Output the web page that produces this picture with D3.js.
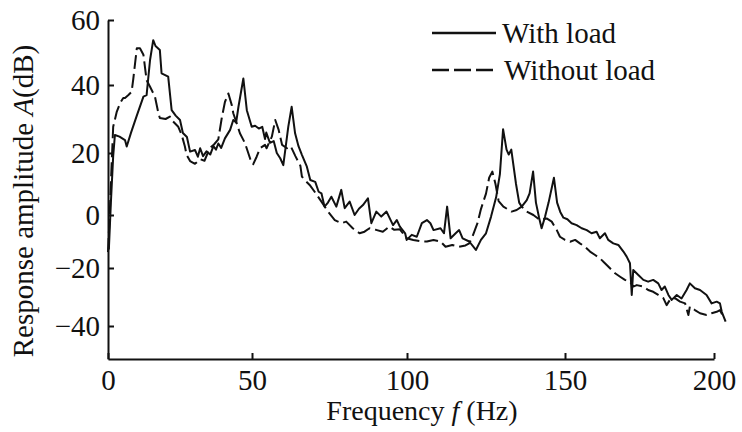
<!DOCTYPE html>
<html>
<head>
<meta charset="utf-8">
<script src="https://cdn.jsdelivr.net/npm/d3@7"></script>
<style>
  body { margin: 0; background: #fff; }
  text { font-family: "Liberation Serif", "Times New Roman", serif; fill: #111; }
  .axis path, .axis line { stroke: #111; stroke-width: 2; }
  .axis text { font-size: 29px; }
  .series { fill: none; stroke: #111; stroke-width: 2; stroke-linejoin: round; }
</style>
</head>
<body>
<div id="chart"></div>
<script>
// frequency (Hz), response amplitude (dB)
const withLoad = [
  [0.3,-13],[1.0,4],[1.8,19],[2.4,25.3],[4,24.8],[5.9,23.8],[6.5,21.9],[8,26],[10,31],
  [12.3,36.6],[13.4,37],[14.6,47.7],[15.7,53.8],[16.5,52],[18,50.8],[18.6,43.6],[20.9,42.6],
  [22.1,32.6],[23.5,31],[25,29.7],[26,25.9],[27.4,24.7],[28.5,20.4],[30.2,20.9],[31.2,18.8],
  [32,21.4],[33,19],[34.2,20.5],[35.5,19.5],[36.6,22],[37.5,21],[38.3,22.8],[39.3,21.5],
  [40.6,24.3],[42.4,26.8],[43.5,29.7],[44.5,29],[45.3,33.6],[47,42],[48.2,32.6],[49.9,27.7],
  [51,28],[52.2,27.2],[53.3,27.7],[54.2,24.1],[54.6,26],[55.8,23],[57,23.5],[58,20],
  [59.1,18.3],[60.1,16.1],[61.7,27.7],[62.8,33.6],[63.9,25.8],[65,22],[66.1,19.4],[67.7,15.6],
  [68.8,11.3],[70.4,10.7],[71.5,7.5],[72.4,7],[73.4,2.7],[74.5,4],[75.6,5.9],[77.2,2.7],
  [78.8,8.1],[79.9,2.2],[81.5,4.3],[83.1,0],[84.5,2],[85.8,3.2],[87.4,5.4],[88.5,-3.1],
  [90.1,1.1],[91.7,-0.6],[93.4,1.1],[95.5,-3.8],[96.7,-1.9],[97.7,-4.4],[99.4,-6.9],[99.9,-9.4],
  [101.5,-7.5],[103.1,-8.2],[104.7,-3.1],[106.3,-1.9],[107.4,-3.1],[108.4,-5.7],[110.6,-5],
  [111.7,-6.9],[112.7,2.7],[113.8,-8.8],[115.4,-6.9],[116.5,-5.7],[117.6,-8.8],[119.7,-10],
  [121.8,-13.2],[123.4,-9.4],[125,-6.9],[126.6,-0.6],[128.2,5.7],[129.4,13.2],[130.4,27],
  [131.5,21],[132.2,19.5],[133,21],[134.5,10],[135.5,4],[136.3,2.7],[137.9,4.8],[138.8,7],
  [139.9,14],[140.8,4],[141.8,-1],[142.6,-5],[143.7,-0.6],[144.8,4],[146.5,12],[147.5,4],
  [148.5,1],[149.5,-1],[150.8,-1.6],[152.2,-3.1],[153.9,-3.8],[155.6,-5],[157.3,-5.7],
  [158.9,-6.9],[160.6,-6.3],[161.7,-8.8],[163.4,-6.9],[164.5,-9.4],[166.2,-10.7],[167.9,-11.3],
  [169.6,-13.8],[170.7,-15.7],[171.8,-18.2],[172.4,-29.3],[172.9,-20.7],[174.6,-22.4],
  [176.3,-24.1],[177.9,-24.7],[179.6,-24.1],[181.3,-25.3],[182.4,-27.6],[183.5,-26.4],
  [184.7,-29.3],[185.8,-31],[187.5,-29.3],[189.1,-30.5],[190.8,-27.6],[191.9,-25.3],
  [193.6,-27],[195.3,-27.6],[197.5,-29.3],[199.2,-32.2],[200.9,-31.6],[202,-32.2],
  [202.6,-35.1],[203.9,-38.5]
];

const withoutLoad = [
  [0,-14],[0.6,0],[1.2,15],[1.8,27.7],[3,32],[4.2,34.7],[5.3,36.2],[5.9,36.2],[7,37],[8.2,38],
  [8.8,42],[10,51.3],[11.1,51.3],[12.3,49.3],[13.4,41.5],[14.6,39.5],[16.3,36.6],[17.5,31.7],
  [18,30.3],[20,30],[21.5,30.7],[22.1,29.7],[24.4,27.7],[25.6,25.3],[26.7,21.9],[27.3,19.4],
  [28.5,17.4],[30.2,16.5],[32,18],[33.5,17.5],[35.3,21.4],[36.8,22.5],[38.3,24],[39.5,30.3],
  [40.6,35],[41.8,37.5],[43,34],[43.5,31.7],[44.7,28.7],[45.8,25.8],[46.9,24],[47.6,22.8],
  [48.7,20],[49.9,16.7],[50.4,16.4],[51.5,18.8],[52.6,21.4],[54.2,22.4],[54.7,21.4],[56.4,24.8],
  [57.5,29.7],[58.6,26.8],[59.7,22.4],[61.3,21.4],[62.5,22],[64,19],[65.6,15.9],[66.1,12.4],
  [67.3,11],[68.6,9.7],[70.2,7.5],[72.4,4.3],[74.5,1.1],[76.7,-1.9],[78.8,-3.1],[80.4,-2.5],
  [82.5,-5],[84.7,-6.9],[86.3,-6.3],[87.9,-5],[90,-5.6],[92.2,-6.3],[94.3,-4.4],[95.9,-5.6],
  [97.7,-5.4],[99.9,-8.8],[102,-9.4],[104.7,-10],[106.3,-10],[108.4,-9.4],[110.6,-10],
  [112.2,-12],[114.3,-11.3],[116.5,-12],[118.5,-11.5],[119.7,-10.7],[120.7,-8.2],[122.3,-3.1],
  [123.4,1.9],[125,6.9],[126,12],[127,14],[128,10],[129,4.5],[130.5,2.7],[133.1,1.1],
  [134.7,1.6],[136.3,2.7],[137.9,1.1],[140,0],[142.1,-1.9],[144.2,-1.3],[145.8,-2.5],
  [147.4,-5.7],[148.4,-8.2],[150,-9.4],[151.7,-10.1],[153.4,-9.4],[155,-10.7],[156.7,-12],
  [158.4,-13.8],[160.1,-15.1],[161.7,-16.3],[163.4,-18.2],[165.1,-20.1],[166.8,-21.8],
  [168.5,-23],[170.1,-24.1],[171.8,-24.7],[172.9,-26.4],[174.1,-25.9],[176.3,-26.4],
  [177.9,-27.6],[179.6,-28.2],[181.3,-29.3],[183,-30.4],[184.1,-32.8],[185.2,-31],
  [186.9,-30.4],[188.6,-31.6],[190.3,-32.2],[191.4,-36.2],[191.9,-33.3],[193.6,-34.5],
  [195.3,-35.6],[197.5,-36.2],[199.2,-35.6],[200.9,-35.1],[202,-34.5],[203.1,-36.8]
];

const xTicks = [0, 50, 100, 150, 200];
const yTicks = [-40, -20, 0, 20, 40, 60];
const seriesNames = ["With load", "Without load"];

const width = 742, height = 432;

const svg = d3.select("#chart")
  .append("svg")
  .attr("width", width)
  .attr("height", height);

// the printed axes are slightly uneven, so the scales follow the tick marks
const x = d3.scaleLinear()
  .domain([0, 50, 100, 150, 200])
  .range([108, 252, 407, 565, 714]);

const y = d3.scaleLinear()
  .domain([-50, -40, -20, 0, 20, 40, 60])
  .range([359, 326, 268, 215, 153, 85, 20]);

svg.append("g")
  .attr("class", "axis")
  .attr("transform", "translate(0,359)")
  .call(d3.axisBottom(x).tickValues(xTicks).tickSize(-6).tickSizeOuter(0).tickPadding(10));

svg.append("g")
  .attr("class", "axis")
  .attr("transform", "translate(108,0)")
  .call(d3.axisLeft(y).tickValues(yTicks).tickSize(-6).tickSizeOuter(0).tickPadding(8));

svg.selectAll(".axis text").attr("fill", "#111");

const line = d3.line()
  .x(d => x(d[0]))
  .y(d => y(d[1]));

svg.append("path")
  .attr("class", "series")
  .attr("d", line(withoutLoad))
  .attr("stroke-dasharray", "14,5");

svg.append("path")
  .attr("class", "series")
  .attr("d", line(withLoad));

// axis titles
const xt = svg.append("text")
  .attr("x", 422)
  .attr("y", 420)
  .attr("text-anchor", "middle")
  .style("font-size", "28px");
xt.append("tspan").text("Frequency ");
xt.append("tspan").style("font-style", "italic").text("f");
xt.append("tspan").text(" (Hz)");

const yt = svg.append("text")
  .attr("transform", "translate(33,201) rotate(-90)")
  .attr("text-anchor", "middle")
  .style("font-size", "29px");
yt.append("tspan").text("Response amplitude ");
yt.append("tspan").style("font-style", "italic").text("A");
yt.append("tspan").text("(dB)");

// legend
const legend = svg.selectAll(".legend")
  .data(seriesNames)
  .enter().append("g")
  .attr("class", "legend")
  .attr("transform", (d, i) => "translate(432," + (33 + i * 37) + ")");

legend.append("line")
  .attr("x1", 0)
  .attr("x2", 64)
  .attr("stroke", "#111")
  .attr("stroke-width", 2.5)
  .attr("stroke-dasharray", (d, i) => i === 1 ? "17,5" : null);

legend.append("text")
  .attr("x", (d, i) => 70 + i * 2)
  .attr("dy", "0.33em")
  .style("font-size", "29px")
  .text(d => d);
</script>
</body>
</html>
